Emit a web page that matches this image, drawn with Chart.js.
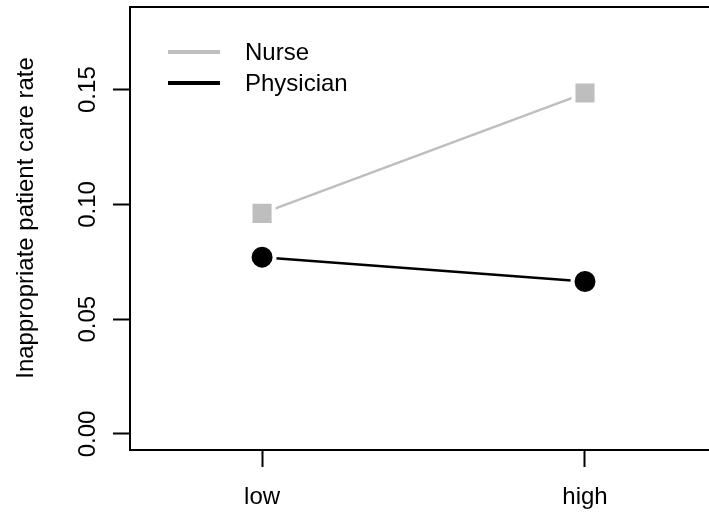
<!DOCTYPE html>
<html>
<head>
<meta charset="utf-8">
<script src="https://cdn.jsdelivr.net/npm/chart.js@4/dist/chart.umd.min.js"></script>
<style>
  html, body { margin: 0; padding: 0; background: #fff; overflow: hidden; }
  canvas { display: block; }
</style>
</head>
<body>
<canvas id="chart" width="709" height="515"></canvas>
<script>
const groups = ["low", "high"];
const nurse = [0.0961, 0.1485];
const physician = [0.0770, 0.0664];
const yTicks = [0, 0.05, 0.10, 0.15];
const yTitle = "Inappropriate patient care rate";

const FONT = "'Liberation Sans', Arial, Helvetica, sans-serif";
const GRAY = "#bebebe";

const toPoints = (vals) => vals.map((v, i) => ({ x: i, y: v }));

// frame top line, rotated y labels, y title and the legend
const extras = {
  id: "extras",
  afterDraw(chart) {
    const { ctx, chartArea: a, scales } = chart;
    ctx.save();
    ctx.strokeStyle = "#000";
    ctx.lineWidth = 2;
    ctx.beginPath();
    ctx.moveTo(a.left - 1, a.top);
    ctx.lineTo(a.right, a.top);
    ctx.stroke();

    ctx.fillStyle = "#000";
    ctx.font = `24px ${FONT}`;
    ctx.textAlign = "center";
    ctx.textBaseline = "middle";
    yTicks.forEach((v) => {
      const y = scales.y.getPixelForValue(v);
      ctx.save();
      ctx.translate(88, y);
      ctx.rotate(-Math.PI / 2);
      ctx.fillText(v.toFixed(2), 0, 0);
      ctx.restore();
    });

    ctx.save();
    ctx.translate(26, 218);
    ctx.rotate(-Math.PI / 2);
    ctx.fillText(yTitle, 0, 0);
    ctx.restore();

    ctx.textAlign = "left";
    chart.data.datasets.forEach((ds, i) => {
      const y = 52 + i * 31;
      ctx.strokeStyle = ds.borderColor;
      ctx.lineWidth = 4;
      ctx.beginPath();
      ctx.moveTo(168, y);
      ctx.lineTo(220, y);
      ctx.stroke();
      ctx.fillText(ds.label, 245, y + 1);
    });
    ctx.restore();
  }
};

new Chart(document.getElementById("chart"), {
  type: "line",
  data: {
    datasets: [
      {
        label: "Nurse",
        data: toPoints(nurse),
        borderColor: GRAY,
        backgroundColor: GRAY,
        borderWidth: 2.5,
        pointStyle: "rect",
        pointRadius: 16.3,
        pointBorderColor: "#fff",
        pointBorderWidth: 4,
        pointBackgroundColor: GRAY
      },
      {
        label: "Physician",
        data: toPoints(physician),
        borderColor: "#000",
        backgroundColor: "#000",
        borderWidth: 2.5,
        pointStyle: "circle",
        pointRadius: 12.5,
        pointBorderColor: "#fff",
        pointBorderWidth: 4,
        pointBackgroundColor: "#000"
      }
    ]
  },
  options: {
    responsive: false,
    animation: false,
    events: [],
    layout: { autoPadding: false, padding: { top: 7, right: 0, left: 0, bottom: 0 } },
    plugins: { legend: { display: false }, tooltip: { enabled: false } },
    scales: {
      x: {
        type: "linear",
        min: -0.409,
        max: 1.384,
        afterBuildTicks: (s) => { s.ticks = groups.map((_, i) => ({ value: i })); },
        afterFit: (s) => { s.height = 65; },
        ticks: {
          callback: (v) => groups[v],
          color: "#000",
          font: { family: FONT, size: 24 },
          padding: 16,
          maxRotation: 0
        },
        grid: { drawOnChartArea: false, tickLength: 17, tickWidth: 2, color: "#000" },
        border: { display: true, color: "#000", width: 2 }
      },
      y: {
        min: -0.007,
        max: 0.186,
        afterBuildTicks: (s) => { s.ticks = yTicks.map((v) => ({ value: v })); },
        afterFit: (s) => { s.width = 130; },
        ticks: { display: false },
        grid: { drawOnChartArea: false, tickLength: 17, tickWidth: 2, color: "#000" },
        border: { display: true, color: "#000", width: 2 }
      }
    }
  },
  plugins: [extras]
});
</script>
</body>
</html>
